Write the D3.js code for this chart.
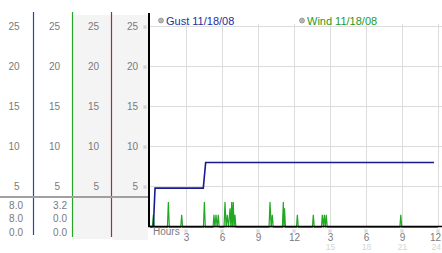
<!DOCTYPE html>
<html>
<head>
<meta charset="utf-8">
<script src="https://cdn.jsdelivr.net/npm/d3@7"></script>
<style>
    body { margin: 0; background: #fff; }
    svg { display: block; font-family: "Liberation Sans", Arial, sans-serif; }
</style>
</head>
<body>
<svg id="chart" width="442" height="253"></svg>
<script>

// speed ticks shared by the side panel and the plot
let speed_ticks = [5, 10, 15, 20, 25];

// hour ticks, top row labels and the second (faint) row
let hour_ticks = [3, 6, 9, 12, 15, 18, 21, 24];
let hour_labels = ['3', '6', '9', '12', '3', '6', '9', '12'];
let hour_labels_late = ['', '', '', '', '15', '18', '21', '24'];

// gust readings: [hour, speed]
let gust = [
    [0, 0], [0.28, 0], [0.42, 4.8], [4.44, 4.8], [4.64, 8.0], [23.67, 8.0]
];

// wind readings: [hour, speed]
let wind = [
    [0, 0], [0.2, 0], [0.28, 1.6], [0.36, 0],
    [1.45, 0], [1.53, 3.2], [1.61, 0],
    [2.56, 0], [2.64, 1.6], [2.72, 0],
    [4.45, 0], [4.53, 3.2], [4.61, 0],
    [5.25, 0], [5.33, 1.6], [5.41, 0], [5.5, 1.6], [5.6, 0], [5.69, 1.6], [5.77, 0],
    [6.17, 0], [6.25, 3.2], [6.34, 0], [6.44, 1.6], [6.54, 0], [6.67, 2.4], [6.74, 0],
    [6.81, 3.2], [6.87, 0], [6.94, 3.2], [7.01, 0], [7.08, 1.6], [7.16, 0],
    [9.92, 0], [10.0, 3.2], [10.1, 0], [10.19, 1.6], [10.27, 0],
    [11.03, 0], [11.11, 3.2], [11.16, 0], [11.21, 2.4], [11.29, 0],
    [12.2, 0], [12.28, 1.6], [12.36, 0],
    [13.53, 0], [13.61, 1.6], [13.69, 0],
    [14.28, 0], [14.36, 1.6], [14.45, 0], [14.53, 1.6], [14.61, 0], [14.69, 1.6], [14.77, 0],
    [20.82, 0], [20.9, 1.6], [20.98, 0],
    [24, 0]
];

// side panel summaries (max, current, min)
let gust_stats = ['8.0', '8.0', '0.0'];
let wind_stats = ['3.2', '0.0', '0.0'];

let legend_names = ['Gust 11/18/08', 'Wind 11/18/08'];
let legend_colors = ['#1c2f9c', '#1f9a1f'];


let svg = d3.select('#chart');

let x = d3.scaleLinear().domain([0, 24]).range([150, 438]),
    y = d3.scaleLinear().domain([0, 25]).range([226.5, 26.5]);


draw_side_panel();
draw_grid();
draw_series();
draw_axes();
draw_legend();


function draw_side_panel () {

    // shaded columns
    svg.append('rect')
        .attr('x', 73).attr('y', 15)
        .attr('width', 38).attr('height', 224)
        .attr('fill', '#f4f4f4');

    svg.append('rect')
        .attr('x', 112).attr('y', 15)
        .attr('width', 36).attr('height', 225)
        .attr('fill', '#f4f4f4');

    // column rules
    let rules = [
        {x: 33.5, color: '#2448b0', bottom: 235},
        {x: 72.5, color: '#2aa62a', bottom: 237},
        {x: 111.5, color: '#b42828', bottom: 237}
    ];

    svg.selectAll('.rule')
        .data(rules)
        .enter()
        .append('line')
        .attr('class', 'rule')
        .attr('x1', d => d.x).attr('x2', d => d.x)
        .attr('y1', 12).attr('y2', d => d.bottom)
        .attr('stroke', d => d.color)
        .attr('stroke-width', 1.2);

    // tick labels repeated in each column
    let column_right = [19.5, 60, 99, 138];

    column_right.forEach(function (right) {

        svg.append('g')
            .selectAll('text')
            .data(speed_ticks)
            .enter()
            .append('text')
            .attr('x', right)
            .attr('y', d => y(d) + 3.6)
            .attr('text-anchor', 'end')
            .attr('font-size', 10)
            .attr('fill', '#7a7a7a')
            .text(d => d);

    });

    // divider above the summaries
    svg.append('line')
        .attr('x1', 0).attr('x2', 150)
        .attr('y1', 197).attr('y2', 197)
        .attr('stroke', '#a0a0a0')
        .attr('stroke-width', 2);

    let stat_rows = [208.5, 222, 235.5];

    [[gust_stats, 23], [wind_stats, 67]].forEach(function (col) {

        svg.append('g')
            .selectAll('text')
            .data(col[0])
            .enter()
            .append('text')
            .attr('x', col[1])
            .attr('y', (d, i) => stat_rows[i])
            .attr('text-anchor', 'end')
            .attr('font-size', 10)
            .attr('fill', '#7a7a7a')
            .text(d => d);

    });

}

function draw_grid () {

    svg.append('g')
        .selectAll('line')
        .data(speed_ticks)
        .enter()
        .append('line')
        .attr('x1', 150).attr('x2', 442)
        .attr('y1', d => y(d)).attr('y2', d => y(d))
        .attr('stroke', '#dcdcdc');

    svg.append('g')
        .selectAll('line')
        .data(hour_ticks)
        .enter()
        .append('line')
        .attr('x1', d => Math.round(x(d)) + 0.5).attr('x2', d => Math.round(x(d)) + 0.5)
        .attr('y1', 24).attr('y2', y(0))
        .attr('stroke', '#dcdcdc');

}

function draw_series () {

    let line = d3.line()
        .x(d => x(d[0]))
        .y(d => y(d[1]));

    svg.append('path')
        .datum(wind)
        .attr('d', line)
        .attr('transform', 'translate(0,1)')
        .attr('fill', 'none')
        .attr('stroke', '#22a822')
        .attr('stroke-width', 1.2);

    svg.append('path')
        .datum(gust)
        .attr('d', line)
        .attr('fill', 'none')
        .attr('stroke', '#1a1a8e')
        .attr('stroke-width', 1.6);

}

function draw_axes () {

    // baseline and left axis
    svg.append('line')
        .attr('x1', 150).attr('x2', 442)
        .attr('y1', y(0)).attr('y2', y(0))
        .attr('stroke', '#000')
        .attr('stroke-width', 1.5);

    svg.append('line')
        .attr('x1', 149).attr('x2', 149)
        .attr('y1', 13).attr('y2', y(0) + 0.75)
        .attr('stroke', '#000')
        .attr('stroke-width', 2);

    // little hatch marks on the ticks
    speed_ticks.forEach(d => hatch(145, y(d)));
    hour_ticks.forEach(d => hatch(x(d), 230.5));

    let last = hour_ticks[hour_ticks.length - 1];

    // labels on the last tick are pulled in so they stay on the page
    let label_x = d => d === last ? 441 : x(d) + 0.5,
        label_anchor = d => d === last ? 'end' : 'middle';

    svg.append('g')
        .selectAll('text')
        .data(hour_ticks)
        .enter()
        .append('text')
        .attr('x', label_x)
        .attr('y', 241)
        .attr('text-anchor', label_anchor)
        .attr('font-size', 10)
        .attr('fill', '#7a7a7a')
        .text((d, i) => hour_labels[i]);

    svg.append('g')
        .selectAll('text')
        .data(hour_ticks)
        .enter()
        .append('text')
        .attr('x', label_x)
        .attr('y', 250)
        .attr('text-anchor', label_anchor)
        .attr('font-size', 8.5)
        .attr('fill', '#d4d4d4')
        .text((d, i) => hour_labels_late[i]);

    svg.append('text')
        .attr('x', 153)
        .attr('y', 235)
        .attr('font-size', 10)
        .attr('fill', '#7a7a7a')
        .text('Hours');

}

function draw_legend () {

    let starts = [161, 302];

    legend_names.forEach(function (name, i) {

        svg.append('circle')
            .attr('cx', starts[i]).attr('cy', 20.5)
            .attr('r', 2.5)
            .attr('fill', '#b4b4b4')
            .attr('stroke', '#8c8c8c')
            .attr('stroke-width', 0.7);

        svg.append('text')
            .attr('x', starts[i] + 5)
            .attr('y', 24.5)
            .attr('font-size', 11)
            .attr('fill', legend_colors[i])
            .text(name);

    });

}

function hatch (cx, cy) {

    // tiny x-shaped dot pattern
    let cells = [[-1, -1], [1, -1], [0, 0], [-1, 1], [1, 1]],
        px = Math.round(cx),
        py = Math.round(cy);

    svg.append('g')
        .selectAll('rect')
        .data(cells)
        .enter()
        .append('rect')
        .attr('x', d => px + d[0] - 0.5)
        .attr('y', d => py + d[1] - 0.5)
        .attr('width', 1).attr('height', 1)
        .attr('fill', '#a8a8a8');

}

</script>
</body>
</html>
